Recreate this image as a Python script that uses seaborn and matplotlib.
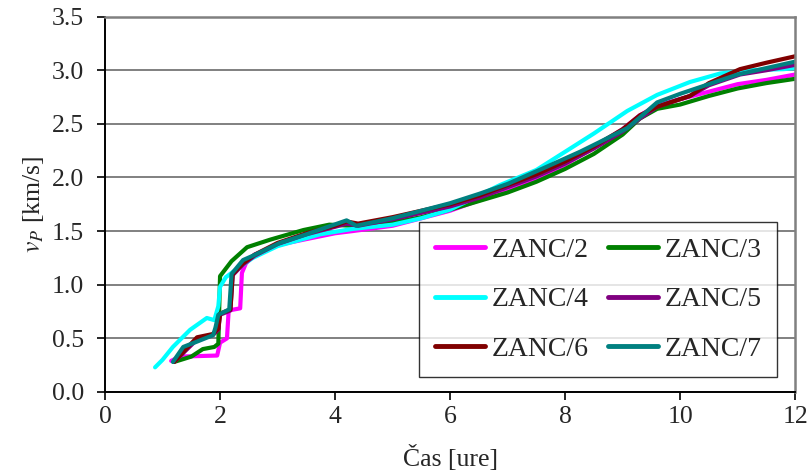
import matplotlib
matplotlib.use("Agg")
import matplotlib.pyplot as plt
import pandas as pd
import seaborn as sns

# ZANC/2
t2 = [1.15, 1.3, 1.95, 2.0, 2.12, 2.15, 2.35, 2.38, 2.45, 2.6, 3.0, 3.45, 4.0, 4.3, 5.0,
      5.36, 6.0, 6.52, 7.0, 7.5, 8.0, 8.5, 9.0, 9.3, 9.6, 10.0, 10.5, 11.0, 11.5, 12.0]
v2 = [0.29, 0.33, 0.34, 0.46, 0.50, 0.76, 0.78, 1.11, 1.20, 1.28, 1.37, 1.42, 1.48, 1.50, 1.55,
      1.60, 1.69, 1.79, 1.88, 1.99, 2.12, 2.28, 2.45, 2.58, 2.67, 2.73, 2.80, 2.87, 2.91, 2.96]
# ZANC/3
t3 = [1.2, 1.5, 1.7, 1.9, 1.97, 2.0, 2.2, 2.47, 2.87, 3.45, 3.9, 4.3, 5.0, 5.5, 6.0, 6.5,
      7.0, 7.5, 8.0, 8.5, 9.0, 9.3, 9.6, 10.0, 10.5, 11.0, 11.5, 12.0]
v3 = [0.28, 0.33, 0.40, 0.42, 0.45, 1.08, 1.22, 1.35, 1.42, 1.51, 1.56, 1.55, 1.58, 1.63, 1.70, 1.78,
      1.86, 1.96, 2.08, 2.22, 2.40, 2.55, 2.64, 2.68, 2.76, 2.83, 2.88, 2.92]
# ZANC/4
t4 = [0.87, 1.0, 1.18, 1.48, 1.77, 1.9, 1.97, 2.0, 2.1, 2.3, 2.57, 3.0, 3.74, 4.3, 5.0, 5.5,
      6.0, 6.87, 7.5, 8.03, 8.5, 9.08, 9.6, 10.17, 10.7, 11.2, 11.8, 12.0]
v4 = [0.23, 0.30, 0.42, 0.58, 0.69, 0.67, 0.80, 0.98, 1.07, 1.15, 1.25, 1.36, 1.47, 1.52, 1.56, 1.62,
      1.70, 1.93, 2.07, 2.25, 2.41, 2.62, 2.77, 2.89, 2.97, 3.00, 3.01, 3.02]
# ZANC/5
t5 = [1.2, 1.6, 1.87, 1.97, 2.0, 2.18, 2.22, 2.4, 2.6, 3.0, 3.5, 4.0, 4.2, 4.4, 5.0,
      5.5, 6.0, 6.5, 7.0, 7.5, 8.0, 8.5, 9.0, 9.3, 9.6, 10.17, 10.5, 11.04, 11.5, 12.0]
v5 = [0.28, 0.49, 0.53, 0.58, 0.72, 0.76, 1.09, 1.19, 1.27, 1.38, 1.47, 1.54, 1.57, 1.55, 1.61,
      1.67, 1.73, 1.81, 1.91, 2.01, 2.13, 2.27, 2.43, 2.55, 2.66, 2.76, 2.86, 2.96, 3.00, 3.05]
# ZANC/6
t6 = [1.2, 1.6, 1.87, 1.97, 2.0, 2.18, 2.22, 2.4, 2.6, 3.0, 3.5, 4.0, 4.2, 4.4, 5.0,
      5.5, 6.0, 6.5, 7.0, 7.5, 8.0, 8.5, 9.0, 9.3, 9.6, 10.17, 10.5, 11.04, 11.5, 12.0]
v6 = [0.28, 0.51, 0.54, 0.59, 0.73, 0.77, 1.10, 1.20, 1.28, 1.39, 1.48, 1.55, 1.59, 1.57, 1.63,
      1.69, 1.75, 1.83, 1.93, 2.03, 2.15, 2.29, 2.45, 2.58, 2.66, 2.76, 2.88, 3.01, 3.07, 3.13]
# ZANC/7
t7 = [1.18, 1.36, 1.6, 1.88, 1.92, 1.97, 2.16, 2.2, 2.4, 2.57, 3.04, 3.5, 4.2, 4.37, 5.0,
      5.36, 6.0, 6.52, 7.0, 7.68, 8.26, 8.6, 9.08, 9.3, 9.6, 10.0, 10.5, 11.0, 11.5, 12.0]
v7 = [0.28, 0.42, 0.47, 0.53, 0.60, 0.72, 0.77, 1.10, 1.23, 1.27, 1.39, 1.47, 1.60, 1.55, 1.62,
      1.67, 1.76, 1.85, 1.94, 2.10, 2.24, 2.33, 2.46, 2.56, 2.70, 2.78, 2.87, 2.96, 3.02, 3.08]

names = ["ZANC/2", "ZANC/3", "ZANC/4", "ZANC/5", "ZANC/6", "ZANC/7"]
colors = ["#ff00ff", "#008000", "#00ffff", "#800080", "#800000", "#008080"]
series = [(t2, v2), (t3, v3), (t4, v4), (t5, v5), (t6, v6), (t7, v7)]

frames = []
for n, (t, v) in zip(names, series):
    frames.append(pd.DataFrame({"t": t, "v": v, "name": n}))
df = pd.concat(frames, ignore_index=True)

sns.set_theme(style="white")
plt.rcParams["font.family"] = ["Liberation Serif", "DejaVu Serif"]
plt.rcParams["mathtext.fontset"] = "stix"

fig = plt.figure(figsize=(8.11, 4.74), dpi=100)
ax = fig.add_axes([0.1295, 0.173, 0.851, 0.792])

sns.lineplot(data=df, x="t", y="v", hue="name", palette=dict(zip(names, colors)),
             hue_order=names, sort=False, estimator=None, linewidth=3.0, ax=ax)

ax.set_xlim(0, 12)
ax.set_ylim(0, 3.5)
ax.set_xticks(range(0, 13, 2))
ax.set_yticks([i * 0.5 for i in range(8)])
ax.set_yticklabels(["%.1f" % (i * 0.5) for i in range(8)])
ax.yaxis.grid(True, color="#808080", linewidth=1.4)
ax.set_axisbelow(True)
for s in ["left", "bottom"]:
    ax.spines[s].set_color("black")
    ax.spines[s].set_linewidth(1.4)
for s in ["top", "right"]:
    ax.spines[s].set_color("#808080")
    ax.spines[s].set_linewidth(1.8)
ax.tick_params(axis="both", which="major", labelsize=18.5, direction="out",
               length=6, width=1.2, color="black", left=True, bottom=True)
ax.tick_params(axis="y", pad=9)
ax.tick_params(axis="x", pad=4)
ax.set_xlabel("Čas [ure]", fontsize=18.5, labelpad=12)
ax.set_ylabel("$v_P$ [km/s]", fontsize=18.5, labelpad=4)

# row-wise legend order: 2 3 / 4 5 / 6 7
handles, labels = ax.get_legend_handles_labels()
order = [0, 2, 4, 1, 3, 5]
leg = ax.legend([handles[i] for i in order], [labels[i] for i in order],
                loc="lower right", ncol=2, fontsize=20, frameon=True, fancybox=False,
                edgecolor="black", handlelength=1.8, handletextpad=0.25,
                columnspacing=0.7, labelspacing=0.86, borderpad=0.55,
                borderaxespad=0, bbox_to_anchor=(0.974, 0.04))
leg.get_frame().set_linewidth(1.0)
for line in leg.get_lines():
    line.set_linewidth(3.5)

plt.savefig("out.png", dpi=100)
